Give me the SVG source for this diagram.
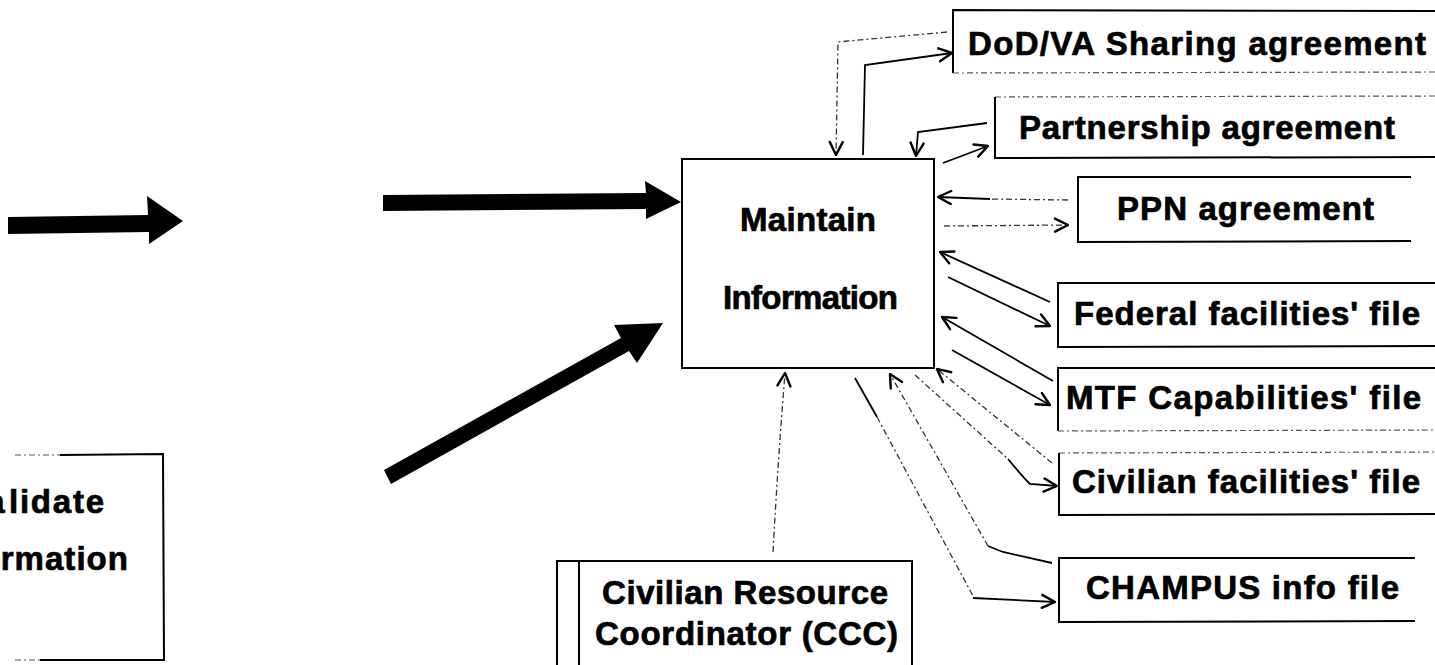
<svg xmlns="http://www.w3.org/2000/svg" width="1435" height="665" viewBox="0 0 1435 665">
  <style>
    .box { fill: none; stroke: #000; stroke-width: 2; }
    .faint { fill: none; stroke: #555; stroke-width: 1.2; stroke-dasharray: 6 3 2 3; }
    .lbl { font-family: "Liberation Sans", Arial, sans-serif; font-weight: bold; font-size: 33px; fill: #000; stroke: #000; stroke-width: 0.7; }
    .wire { fill: none; stroke: #000; stroke-width: 1.8; }
    .dash { fill: none; stroke: #333; stroke-width: 1.3; stroke-dasharray: 6 3 2 3; }
    .big { fill: #000; }
  </style>
  <defs>
    <marker id="vhead" viewBox="0 0 16 16" refX="15" refY="8" markerWidth="16" markerHeight="16" markerUnits="userSpaceOnUse" orient="auto">
      <path d="M2,1.5 L15,8 L2,14.5" fill="none" stroke="#000" stroke-width="2.4" stroke-linecap="round" stroke-linejoin="round"/>
    </marker>
  </defs>
  <rect width="1435" height="665" fill="#fff"/>

  <!-- heavy flow arrows -->
  <g id="flows">
    <polygon class="big" points="8,217 148,215 147,196 183,221 149,244 149,232 8,234"/>
    <polygon class="big" points="383,195 646,193 645,181 681,202 646,219 646,209 383,211"/>
    <polygon class="big" points="384,470 621,338 614,325 663,323 637,363 629,351 391,484"/>
  </g>

  <!-- partly visible activity box at the left border -->
  <g id="validate">
    <path class="faint" d="M15,455 L60,455"/>
    <path class="box" d="M60,455 L163,454 L164,660 L40,660"/>
    <path class="faint" d="M15,660 L40,660"/>
    <text class="lbl" y="513"><tspan x="-34">Va</tspan><tspan x="9" textLength="95" lengthAdjust="spacing">lidate</tspan></text>
    <text class="lbl" x="-64" y="570" textLength="192" lengthAdjust="spacing">Information</text>
  </g>

  <g id="maintain">
    <rect class="box" x="682" y="159" width="252" height="209"/>
    <text class="lbl" x="740" y="231" textLength="136" lengthAdjust="spacing">Maintain</text>
    <text class="lbl" x="723" y="309" textLength="175" lengthAdjust="spacing">Information</text>
  </g>

  <g id="ccc">
    <path class="box" d="M557,665 L557,561 L912,561 L912,665 M579,561 L579,665"/>
    <text class="lbl" x="602" y="604" textLength="286" lengthAdjust="spacing">Civilian Resource</text>
    <text class="lbl" x="595" y="645" textLength="303" lengthAdjust="spacing">Coordinator (CCC)</text>
  </g>

  <g id="dodva">
    <path class="box" d="M1435,11 L953,10 L953,73"/>
    <path class="faint" d="M953,73 L1435,72"/>
    <text class="lbl" x="968" y="55" textLength="458" lengthAdjust="spacing">DoD/VA Sharing agreement</text>
  </g>

  <g id="partnership">
    <path class="faint" d="M995,97 L1435,96"/>
    <path class="box" d="M995,97 L995,158 L1435,157"/>
    <text class="lbl" x="1019" y="139" textLength="376" lengthAdjust="spacing">Partnership agreement</text>
  </g>

  <g id="ppn">
    <path class="box" d="M1411,177 L1078,177 L1078,242 L1411,241"/>
    <text class="lbl" x="1117" y="220" textLength="257" lengthAdjust="spacing">PPN agreement</text>
  </g>

  <g id="federal">
    <path class="box" d="M1435,283 L1058,283 L1058,347 L1435,346"/>
    <text class="lbl" x="1074" y="325" textLength="346" lengthAdjust="spacing">Federal facilities' file</text>
  </g>

  <g id="mtf">
    <path class="box" d="M1435,368 L1058,368 L1058,431"/>
    <path class="faint" d="M1058,431 L1435,430"/>
    <text class="lbl" x="1066" y="409" textLength="355" lengthAdjust="spacing">MTF Capabilities' file</text>
  </g>

  <g id="civilian">
    <path class="faint" d="M1059,453 L1435,452"/>
    <path class="box" d="M1059,453 L1059,515 L1435,514"/>
    <text class="lbl" x="1072" y="493" textLength="348" lengthAdjust="spacing">Civilian facilities' file</text>
  </g>

  <g id="champus">
    <path class="box" d="M1415,558 L1059,558 L1059,622 L1415,621"/>
    <text class="lbl" x="1086" y="599" textLength="313" lengthAdjust="spacing">CHAMPUS info file</text>
  </g>

  <!-- data connectors -->
  <g id="connectors">
    <path class="dash" d="M947,32 L838,42 L836,155" marker-end="url(#vhead)"/>
    <path class="wire" d="M863,155 L865,65 L952,53" marker-end="url(#vhead)"/>
    <path class="wire" d="M987,123 L918,132 L916,156" marker-end="url(#vhead)"/>
    <path class="wire" d="M943,163 L988,146" marker-end="url(#vhead)"/>
    <path class="dash" d="M1068,200 L990,199"/>
    <path class="wire" d="M990,199 L938,197" marker-end="url(#vhead)"/>
    <path class="dash" d="M944,226 L1068,225" marker-end="url(#vhead)"/>
    <path class="wire" d="M1050,302 L940,252" marker-end="url(#vhead)"/>
    <path class="wire" d="M948,277 L1050,326" marker-end="url(#vhead)"/>
    <path class="wire" d="M1053,381 L942,317" marker-end="url(#vhead)"/>
    <path class="wire" d="M952,350 L1050,405" marker-end="url(#vhead)"/>
    <path class="dash" d="M1052,463 L937,369" marker-end="url(#vhead)"/>
    <path class="dash" d="M915,375 L1008,459"/>
    <path class="wire" d="M1008,459 Q1022,476 1030,484 L1057,486" marker-end="url(#vhead)"/>
    <path class="wire" d="M1052,563 L1003,552 L988,546"/>
    <path class="dash" d="M988,546 L890,374" marker-end="url(#vhead)"/>
    <path class="wire" d="M855,378 L877,417"/>
    <path class="dash" d="M877,417 L973,596"/>
    <path class="wire" d="M973,598 L1055,602" marker-end="url(#vhead)"/>
    <path class="dash" d="M773,552 Q778,460 785,373" marker-end="url(#vhead)"/>
  </g>
</svg>
